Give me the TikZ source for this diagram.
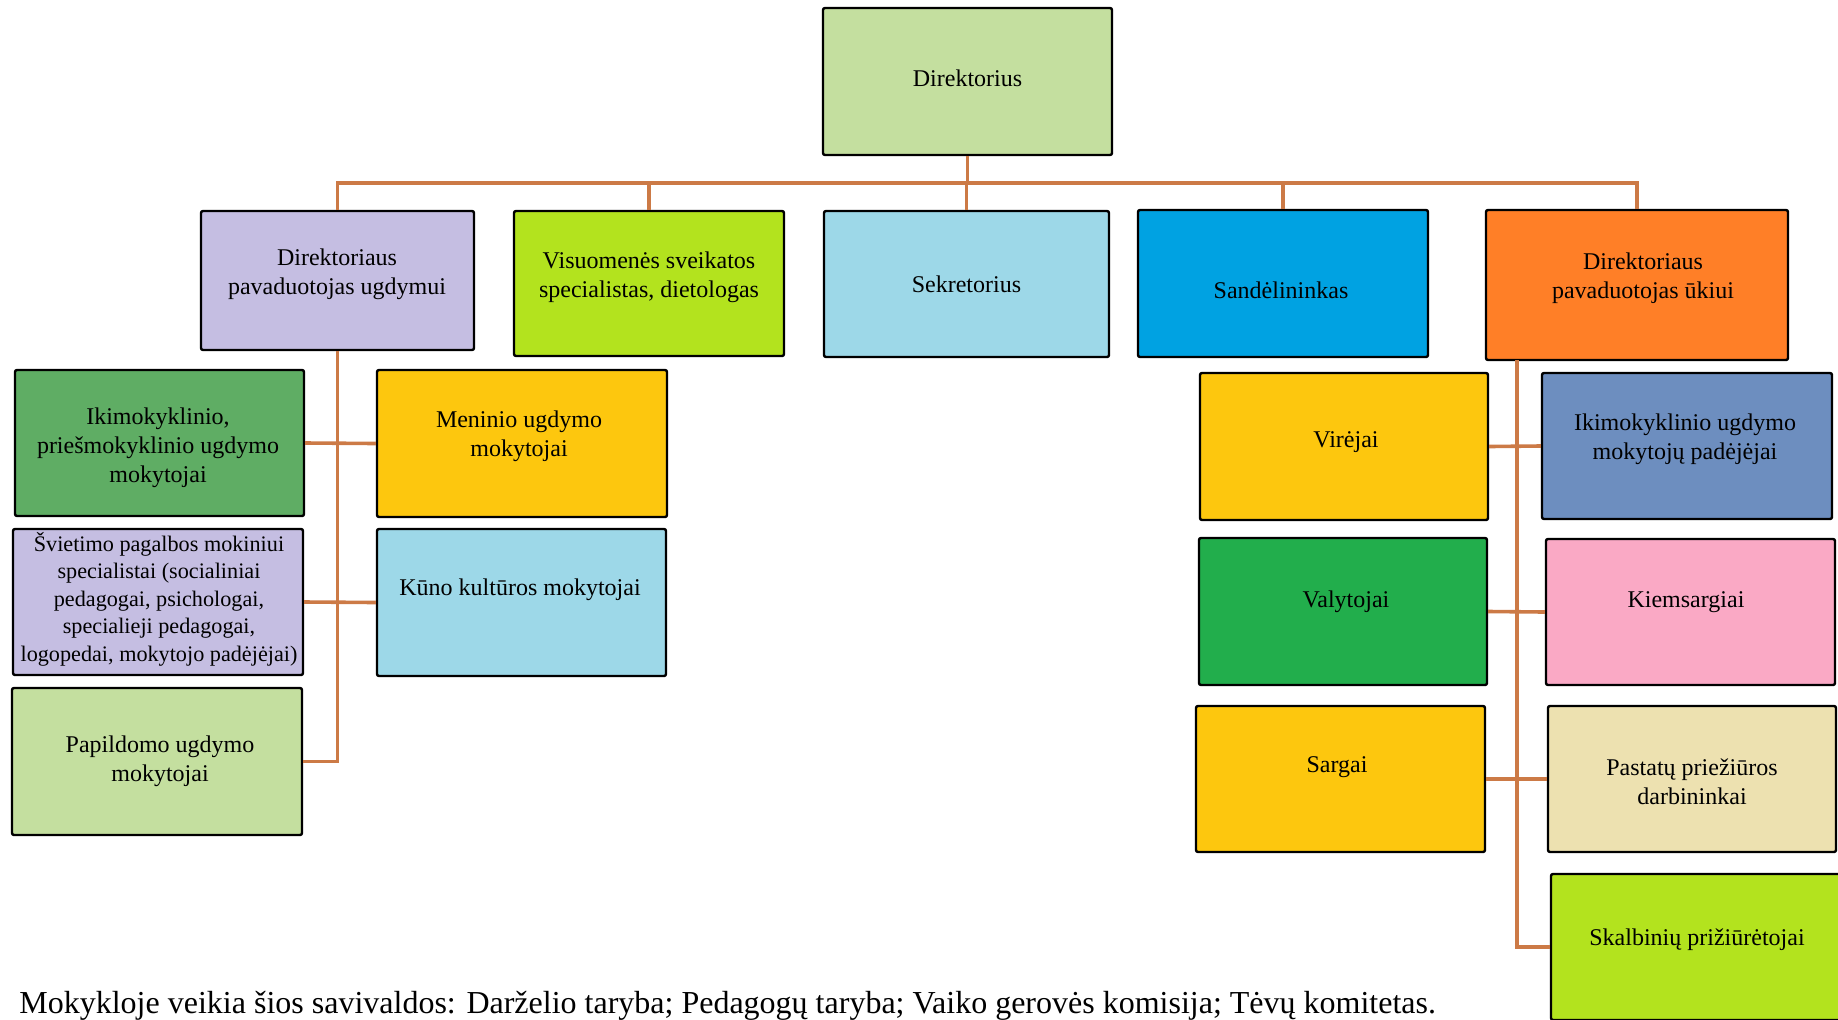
\documentclass[tikz,border=0pt]{standalone}
\usepackage{fontspec}
\setmainfont{Liberation Serif}
\definecolor{linec}{HTML}{CC7A46}
\definecolor{cLgreen}{HTML}{C4DF9F}
\definecolor{cLav}{HTML}{C5BEE2}
\definecolor{cLime}{HTML}{B3E31E}
\definecolor{cLblue}{HTML}{9DD8E8}
\definecolor{cBlue}{HTML}{00A2E2}
\definecolor{cOrange}{HTML}{FF7F27}
\definecolor{cGreen}{HTML}{5FAD64}
\definecolor{cGold}{HTML}{FDC70E}
\definecolor{cSteel}{HTML}{6D8EBF}
\definecolor{cDgreen}{HTML}{22AE4C}
\definecolor{cPink}{HTML}{FAA9C5}
\definecolor{cBeige}{HTML}{EDE1B0}
\begin{document}
\begin{tikzpicture}[x=0.5pt,y=-0.5pt,
  box/.style={draw=black, line width=1.2pt, rounded corners=1pt, inner sep=0pt},
  lbl/.style={align=center, font=\fontsize{12}{14.5}\selectfont, inner sep=0pt},
  conn/.style={draw=linec, line width=1.8pt}]
\useasboundingbox (0,0) rectangle (1838,1019);
\clip (0,0) rectangle (1838,1019);
% boxes
\node[box, fill=cLgreen, minimum width=144.5pt, minimum height=73.5pt] (dir) at (967.5,81.5) {};
\node[box, fill=cLav, minimum width=136.5pt, minimum height=69.5pt] (dpu) at (337.5,280.5) {};
\node[box, fill=cLime, minimum width=135pt, minimum height=72.5pt] (vis) at (649,283.5) {};
\node[box, fill=cLblue, minimum width=142.5pt, minimum height=73pt] (sek) at (966.5,284) {};
\node[box, fill=cBlue, minimum width=145pt, minimum height=73.5pt] (san) at (1283,283.5) {};
\node[box, fill=cOrange, minimum width=151pt, minimum height=75pt] (dpuk) at (1637,285) {};
\node[box, fill=cGreen, minimum width=144.5pt, minimum height=73pt] (iki) at (159.5,443) {};
\node[box, fill=cGold, minimum width=145pt, minimum height=73.5pt] (men) at (522,443.5) {};
\node[box, fill=cLav, minimum width=145pt, minimum height=73pt] (svi) at (158,602) {};
\node[box, fill=cLblue, minimum width=144.5pt, minimum height=73.5pt] (kun) at (521.5,602.5) {};
\node[box, fill=cLgreen, minimum width=145pt, minimum height=73.5pt] (pap) at (157,761.5) {};
\node[box, fill=cGold, minimum width=144pt, minimum height=73.5pt] (vir) at (1344,446.5) {};
\node[box, fill=cSteel, minimum width=145pt, minimum height=73pt] (ikp) at (1687,446) {};
\node[box, fill=cDgreen, minimum width=144pt, minimum height=73.5pt] (val) at (1343,611.5) {};
\node[box, fill=cPink, minimum width=144.5pt, minimum height=73pt] (kie) at (1690.5,612) {};
\node[box, fill=cGold, minimum width=144.5pt, minimum height=73pt] (sar) at (1340.5,779) {};
\node[box, fill=cBeige, minimum width=144pt, minimum height=73pt] (pas) at (1692,779) {};
\node[box, fill=cLime, minimum width=145pt, minimum height=73pt] (ska) at (1696,947) {};
% texts
\node[lbl] (dir-t) at (967.5,78.5) {Direktorius};
\node[lbl] (dpu-t) at (337,274) {Direktoriaus\\pavaduotojas ugdymui};
\node[lbl] (vis-t) at (649,277) {Visuomenės sveikatos\\specialistas, dietologas};
\node[lbl] (sek-t) at (966.5,284) {Sekretorius};
\node[lbl] (san-t) at (1281,290) {Sandėlininkas};
\node[lbl] (dpuk-t) at (1643,278) {Direktoriaus\\pavaduotojas ūkiui};
\node[lbl] (iki-t) at (158,448) {Ikimokyklinio,\\priešmokyklinio ugdymo\\mokytojai};
\node[lbl] (men-t) at (519,436.5) {Meninio ugdymo\\mokytojai};
\node[lbl, font=\fontsize{11.1}{13.75}\selectfont] (svi-t) at (159,599) {Švietimo pagalbos mokiniui\\specialistai (socialiniai\\pedagogai, psichologai,\\specialieji pedagogai,\\logopedai, mokytojo padėjėjai)};
\node[lbl] (kun-t) at (520,590) {Kūno kultūros mokytojai};
\node[lbl] (pap-t) at (160,761) {Papildomo ugdymo\\mokytojai};
\node[lbl] (vir-t) at (1346,442) {Virėjai};
\node[lbl] (ikp-t) at (1685,439) {Ikimokyklinio ugdymo\\mokytojų padėjėjai};
\node[lbl] (val-t) at (1346,602) {Valytojai};
\node[lbl] (kie-t) at (1686,602) {Kiemsargiai};
\node[lbl] (sar-t) at (1337,767) {Sargai};
\node[lbl] (pas-t) at (1692,782) {Pastatų priežiūros\\darbininkai};
\node[lbl] (ska-t) at (1697,940) {Skalbinių prižiūrėtojai};
% connectors
\coordinate (busL) at (337,183);
\coordinate (busR) at (1637,183);
\coordinate (rtop) at (1517,360);
\draw[conn] (dpu.north) |- (busR) -- (dpuk.north);
\draw[conn] (dir.south) -- (dir.south |- busL);
\draw[conn] (vis.north) -- (vis.north |- busL);
\draw[conn] (sek.north) -- (sek.north |- busL);
\draw[conn] (san.north) -- (san.north |- busL);
\draw[conn] (dpu.south) |- (pap.east);
\draw[conn] (iki.east) -- (men.west);
\draw[conn] (svi.east) -- (kun.west);
\draw[conn] (rtop) |- (ska.west);
\draw[conn] (vir.east) -- (ikp.west);
\draw[conn] (val.east) -- (kie.west);
\draw[conn] (sar.east) -- (pas.west);
% note
\node[anchor=base west, inner sep=0pt, font=\fontsize{16}{18}\selectfont] (note) at (19,1013) {Mokykloje veikia šios savivaldos: Darželio taryba; Pedagogų taryba; Vaiko gerovės komisija; Tėvų komitetas.};
\end{tikzpicture}
\end{document}
